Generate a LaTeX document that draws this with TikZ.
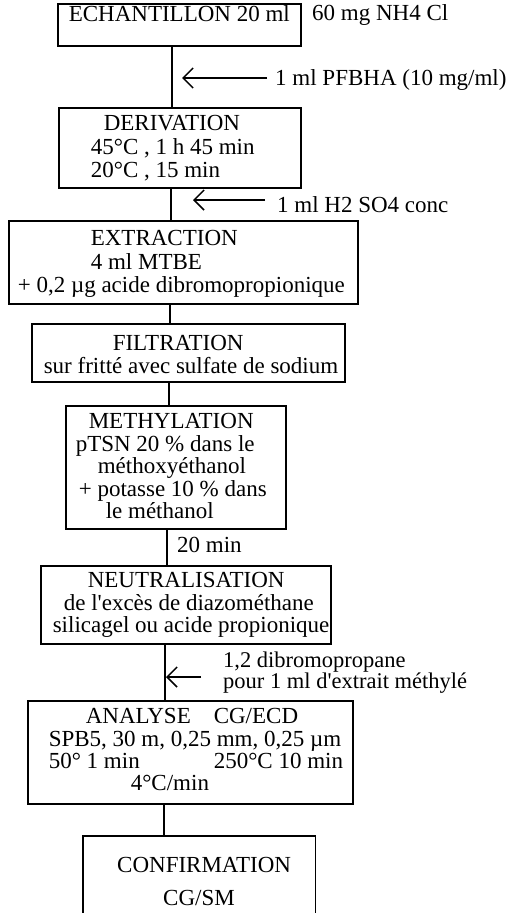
\documentclass[tikz,border=0pt]{standalone}
\usepackage{fontspec}
\setmainfont{Liberation Serif}
\usetikzlibrary{arrows.meta}
\tikzset{
 box/.style={draw, line width=1.6pt, inner sep=0pt, anchor=north west},
 openbox/.style={inner sep=0pt, anchor=north west},
 conn/.style={line width=1.6pt},
 arr/.style={line width=1.5pt, -{Straight Barb[length=10pt,width=20pt,line width=1.5pt]}},
 lbl/.style={inner sep=0pt, anchor=base west, font=\fontsize{23}{24}\selectfont},
}
% #1 width, #2 height, #3 baselineskip, #4 first baseline offset, #5 lines
\newcommand\bxt[5]{\parbox[t][#2][t]{#1}{\fontsize{23}{#3}\selectfont\lineskiplimit=-20pt\rule{0pt}{#4}#5}}
\begin{document}
\begin{tikzpicture}[x=1pt,y=-1pt]
\useasboundingbox (0,0) rectangle (511,913);

% vertical connector x positions
\coordinate (x1) at (172,0);
\coordinate (x2) at (171,0);
\coordinate (x3) at (170,0);
\coordinate (x4) at (169,0);
\coordinate (x5) at (167,0);
\coordinate (x6) at (165,0);
\coordinate (x7) at (164,0);

% boxes
\node[box] (ech) at (57,3) {\bxt{243pt}{42pt}{24pt}{18pt}{\hspace*{11pt}ECHANTILLON 20 ml}};
\node[lbl] (nh4) at (312,20) {60 mg NH4 Cl};

\node[box] (der) at (58,107) {\bxt{242pt}{80pt}{23.5pt}{23pt}{%
\hspace*{45pt}DERIVATION\\
\hspace*{32pt}45°C , 1 h 45 min\\
\hspace*{32pt}20°C , 15 min}};

\node[box] (ext) at (8,220) {\bxt{349pt}{83pt}{23.5pt}{25pt}{%
\hspace*{82pt}EXTRACTION\\
\hspace*{82pt}4 ml MTBE\\
\hspace*{9pt}+ 0,2 µg acide dibromopropionique}};

\node[box] (fil) at (31,323) {\bxt{313pt}{58pt}{23pt}{27pt}{%
\hspace*{81pt}FILTRATION\\
\hspace*{12pt}sur fritté avec sulfate de sodium}};

\node[box] (met) at (65,405) {\bxt{220pt}{123pt}{22.5pt}{23pt}{%
\hspace*{23pt}METHYLATION\\
\hspace*{10pt}pTSN 20 \% dans le\\
\hspace*{32pt}méthoxyéthanol\\
\hspace*{13pt}+ potasse 10 \% dans\\
\hspace*{40pt}le méthanol}};

\node[box] (neu) at (40,565) {\bxt{290pt}{78pt}{22.5pt}{22pt}{%
\hspace*{47pt}NEUTRALISATION\\
\hspace*{23pt}de l\textquotesingle excès de diazométhane\\
\hspace*{12pt}silicagel ou acide propionique}};

\node[box] (ana) at (27,700) {\bxt{325pt}{103pt}{22.3pt}{23pt}{%
\hspace*{58pt}\makebox[128pt][l]{ANALYSE}CG/ECD\\
\hspace*{21pt}SPB5, 30 m, 0,25 mm, 0,25 µm\\
\hspace*{21pt}\makebox[165pt][l]{50° 1 min}250°C 10 min\\
\hspace*{103pt}4°C/min}};

\node[openbox] (conf) at (83,836) {\bxt{232pt}{77pt}{33pt}{36pt}{%
\hspace*{34pt}CONFIRMATION\\
\hspace*{80pt}CG/SM}};
\draw[conn] (conf.south west) -- (conf.north west) -- (conf.north east) -- (conf.south east);

% vertical connectors
\draw[conn] (ech.south -| x1) -- (der.north -| x1);
\draw[conn] (der.south -| x2) -- (ext.north -| x2);
\draw[conn] (ext.south -| x3) -- (fil.north -| x3);
\draw[conn] (fil.south -| x4) -- (met.north -| x4);
\draw[conn] (met.south -| x5) -- (neu.north -| x5);
\draw[conn] (neu.south -| x6) -- (ana.north -| x6);
\draw[conn] (ana.south -| x7) -- (conf.north -| x7);

% additions
\coordinate (a1t) at (267,78);
\coordinate (a1h) at (182,78);
\draw[arr] (a1t) -- (a1h);
\node[lbl] (pfbha) at (275,85) {1 ml PFBHA (10 mg/ml)};

\coordinate (a2t) at (265,200);
\coordinate (a2h) at (193,200);
\draw[arr] (a2t) -- (a2h);
\node[lbl] (h2so4) at (277,212) {1 ml H2 SO4 conc};

\node[lbl] (t20) at (177,552) {20 min};

\coordinate (a3t) at (201,677);
\coordinate (a3h) at (166,677);
\draw[arr] (a3t) -- (a3h);
\node[lbl] (dbp) at (223,667) {\parbox[t]{280pt}{\fontsize{22.5}{21}\selectfont\lineskiplimit=-20pt
1,2 dibromopropane\\
pour 1 ml d\textquotesingle extrait méthylé}};
\end{tikzpicture}
\end{document}
